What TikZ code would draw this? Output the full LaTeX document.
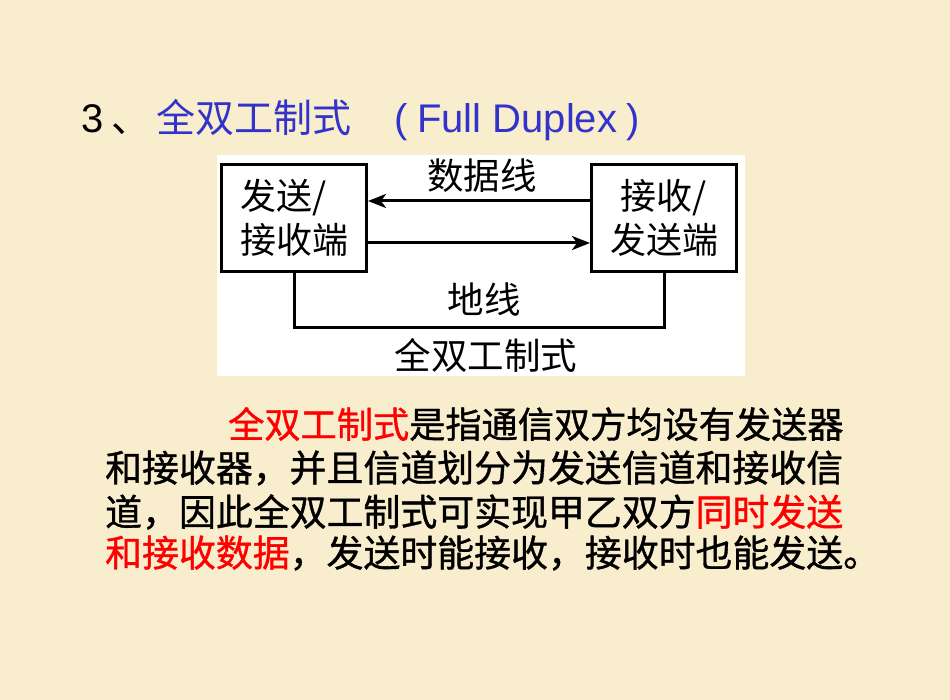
\documentclass[tikz,border=0pt]{standalone}
\usepackage{fontspec}
\setmainfont{Liberation Sans}
\newfontfamily\cjk{Noto Sans CJK SC}
\newfontfamily\cjkb[FakeBold=1]{Noto Sans CJK SC}
\newfontfamily\lat{Liberation Sans}
\usetikzlibrary{arrows.meta,calc}
\definecolor{bg}{RGB}{248,237,204}
\definecolor{tblue}{RGB}{51,51,204}
\definecolor{tred}{RGB}{255,0,0}
\tikzset{
  boxnode/.style={draw=black, line width=3pt, minimum width=145pt, minimum height=107pt,
    inner sep=0pt, font=\cjk\fontsize{36}{44}\selectfont},
  diaglabel/.style={inner sep=0pt, font=\cjk\fontsize{36.5}{40}\selectfont},
  wire/.style={line width=3pt, draw=black},
  arrowline/.style={-{Stealth[length=18pt,width=14pt,inset=5pt]}},
  titlelat/.style={anchor=base west, inner sep=0pt, font=\lat\fontsize{40}{48}\selectfont},
  titlecjk/.style={anchor=base west, inner sep=0pt, font=\cjk\fontsize{39}{48}\selectfont},
  para/.style={anchor=west, inner sep=0pt, font=\cjkb\fontsize{36.9}{40}\selectfont},
  paraone/.style={para, font=\cjkb\fontsize{36.2}{40}\selectfont}
}
\begin{document}
\begin{tikzpicture}[x=1pt,y=-1pt]
\useasboundingbox (0,0) rectangle (950,700);
\fill[bg] (0,0) rectangle (950,700);
\fill[white] (217,155) rectangle (745,376);

% title
\node[titlelat] (t3) at (81,133) {3};
\node[titlecjk] (tc) at (111,133) {、};
\node[titlecjk, text=tblue] (tz) at (156,133) {全双工制式};
\node[titlelat, text=tblue] (tp1) at (394,133) {(};
\node[titlelat, text=tblue] (tf) at (417,133) {Full Duplex};
\node[titlelat, text=tblue] (tp2) at (626,133) {)};

% diagram
\node[boxnode, align=left] (L) at (294,218) {发送/\\接收端};
\node[boxnode, align=center] (R) at (664,218) {接收/\\发送端};
\draw[wire, arrowline] ($(R.west)+(0,-17)$) -- ($(L.east)+(0,-17)$);
\draw[wire, arrowline] ($(L.east)+(0,25)$) -- ($(R.west)+(0,25)$);
\draw[wire] (L.south) -- ++(0,55) -| (R.south);
\node[diaglabel] (dl) at (482,176) {数据线};
\node[diaglabel] (gl) at (484,300) {地线};
\node[diaglabel] (fd) at (486,355) {全双工制式};

% paragraph
\node[paraone] (p1) at (228,424) {{\color{tred}全双工制式}是指通信双方均设有发送器};
\node[para] (p2) at (105,468) {和接收器，并且信道划分为发送信道和接收信};
\node[para] (p3) at (105,512) {道，因此全双工制式可实现甲乙双方{\color{tred}同时发送}};
\node[para] (p4) at (105,553) {{\color{tred}和接收数据}，发送时能接收，接收时也能发送。};
\end{tikzpicture}
\end{document}
